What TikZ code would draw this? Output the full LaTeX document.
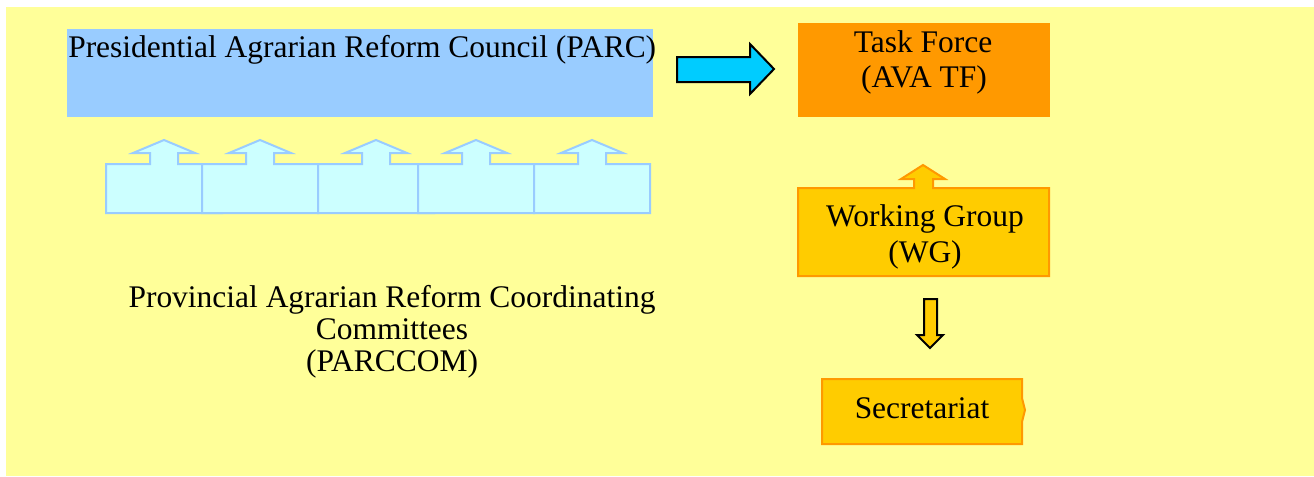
\documentclass[tikz,border=0pt]{standalone}
\usepackage{fontspec}
\setmainfont{Liberation Serif}

\definecolor{bgyellow}{HTML}{FFFF99}
\definecolor{parcblue}{HTML}{99CCFF}
\definecolor{arrowcyan}{HTML}{00CCFF}
\definecolor{tforange}{HTML}{FF9900}
\definecolor{comfill}{HTML}{CCFFFF}
\definecolor{wgyellow}{HTML}{FFCC00}

\tikzset{
  blockarrow/.style={draw=black, line width=1.5pt},
  comcallout/.style={draw=parcblue, fill=comfill, line width=1.5pt},
  wgbox/.style={draw=tforange, fill=wgyellow, line width=1.5pt},
  label/.style={anchor=base, inner sep=0pt}
}

\begin{document}
\begin{tikzpicture}[x=0.75pt, y=-0.75pt, font=\fontsize{23.6}{28}\selectfont]
\useasboundingbox (0,0) rectangle (1314,476);

% background
\fill[bgyellow] (6,7) rectangle (1314,476);

% council
\fill[parcblue] (67,29) rectangle (653,117);
\node[label, anchor=base west] (parc) at (68,57) {Presidential Agrarian Reform Council (PARC)};

\draw[blockarrow, fill=arrowcyan] (677,57) -- (750,57) -- (750,44) -- (774,69)
  -- (750,94) -- (750,82) -- (677,82) -- cycle;

% task force
\fill[tforange] (798,23) rectangle (1050,117);
\node[label] (tf1) at (923,52) {Task Force};
\node[label] (tf2) at (924,87) {(AVA TF)};

% committees
\foreach \x in {164,260,376,476,592} {
  \draw[comcallout] (\x-58,213) -- (\x-58,164) -- (\x-14,164) -- (\x-14,153)
    -- (\x-31,153) -- (\x,140) -- (\x+31,153) -- (\x+14,153) -- (\x+14,164)
    -- (\x+58,164) -- (\x+58,213) -- cycle;
}
\node[label] (com1) at (392,307) {Provincial Agrarian Reform Coordinating};
\node[label] (com2) at (392,339) {Committees};
\node[label] (com3) at (392,371) {(PARCCOM)};

% working group
\draw[wgbox] (798,276) -- (798,188) -- (914,188) -- (914,179) -- (901,179)
  -- (923,165) -- (945,179) -- (933,179) -- (933,188) -- (1049,188)
  -- (1049,276) -- cycle;
\node[label] (wg1) at (925,226) {Working Group};
\node[label] (wg2) at (925,262) {(WG)};

\draw[blockarrow, fill=wgyellow] (924,299) -- (937,299) -- (937,335) -- (943,335)
  -- (930,348) -- (917,335) -- (924,335) -- cycle;

% secretariat
\draw[wgbox] (822,379) -- (1022,379) -- (1022,398) -- (1025,410) -- (1022,422)
  -- (1022,444) -- (822,444) -- cycle;
\node[label] (sec) at (922,418) {Secretariat};

\end{tikzpicture}
\end{document}
